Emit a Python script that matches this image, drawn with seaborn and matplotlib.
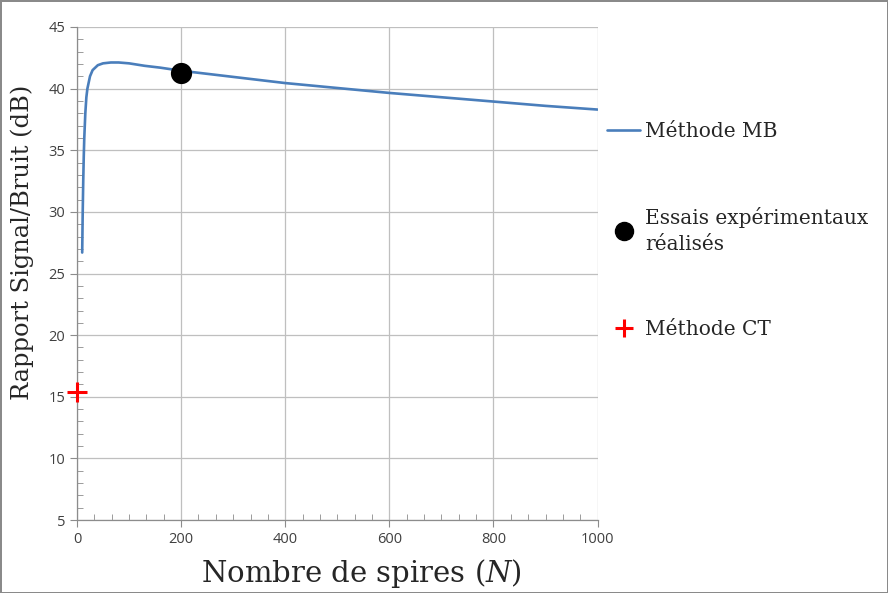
import pandas as pd
import matplotlib.pyplot as plt
import seaborn as sns
from matplotlib.ticker import MultipleLocator
from matplotlib.lines import Line2D

# Courbe théorique (méthode MB)
spires = [10, 11, 12, 13, 14, 16, 18, 20, 25, 30, 40, 50, 65, 80, 100, 130, 160, 200,
          250, 300, 350, 400, 500, 600, 700, 800, 900, 1000]
snr_mb = [26.7, 30.0, 32.5, 34.5, 36.0, 38.0, 39.3, 40.0, 41.0, 41.5, 41.9, 42.05, 42.12,
          42.12, 42.05, 41.85, 41.7, 41.45, 41.2, 40.95, 40.7, 40.45, 40.05, 39.65, 39.3,
          38.95, 38.6, 38.3]

# Essai expérimental et méthode CT
essai_n = [200]
essai_snr = [41.3]
ct_n = [0]
ct_snr = [15.4]

labels = ["Méthode MB", "Essais expérimentaux\nréalisés", "Méthode CT"]

sns.set_style("white")
plt.rcParams['mathtext.fontset'] = 'dejavuserif'

fig = plt.figure(figsize=(8.88, 5.93), dpi=100)
fig.patch.set_edgecolor("#8a8a8a")
fig.patch.set_linewidth(2)
ax = fig.add_axes([0.0867, 0.123, 0.5863, 0.8315])

df = pd.DataFrame({"N": spires, "SNR": snr_mb})
sns.lineplot(data=df, x="N", y="SNR", ax=ax, color="#4a7ebb", linewidth=1.9)
sns.scatterplot(x=essai_n, y=essai_snr, ax=ax, color="black", s=200, zorder=5,
                edgecolor="black", clip_on=False)
ax.plot(ct_n, ct_snr, marker="+", color="#ff0000", markersize=14, mew=2.2,
        linestyle="none", clip_on=False, zorder=6)

ax.set_xlim(0, 1000)
ax.set_ylim(5, 45)
ax.xaxis.set_major_locator(MultipleLocator(200))
ax.xaxis.set_minor_locator(MultipleLocator(200 / 6))
ax.yaxis.set_major_locator(MultipleLocator(5))
ax.yaxis.set_minor_locator(MultipleLocator(1))
ax.grid(True, which="major", color="#bfbfbf", linewidth=0.9)
for s in ["top", "right"]:
    ax.spines[s].set_visible(False)
for s in ["left", "bottom"]:
    ax.spines[s].set_color("#8c8c8c")
    ax.spines[s].set_linewidth(0.9)
ax.tick_params(which="major", direction="out", length=5, color="#8c8c8c",
               labelsize=10.5, labelcolor="#404040", left=True, bottom=True)
ax.tick_params(which="minor", direction="in", length=4, color="#8c8c8c",
               left=True, bottom=True)
for lab in ax.get_xticklabels() + ax.get_yticklabels():
    lab.set_family("Open Sans")

ax.set_xlabel("Nombre de spires ($\\mathit{N}$)", family="DejaVu Serif", fontsize=21)
ax.set_ylabel("Rapport Signal/Bruit (dB)", family="DejaVu Serif", fontsize=17.4)
ax.xaxis.set_label_coords(0.547, -0.075)
ax.yaxis.set_label_coords(-0.082, 0.564)

handles = [
    Line2D([], [], color="#4a7ebb", linewidth=1.9),
    Line2D([], [], color="black", marker="o", markersize=13, linestyle="none"),
    Line2D([], [], color="#ff0000", marker="+", markersize=13, mew=2.2, linestyle="none"),
]
leg = fig.legend(handles, labels, loc="upper left", bbox_to_anchor=(0.6836, 0.795),
                 bbox_transform=fig.transFigure, frameon=False,
                 prop={"family": "DejaVu Serif", "size": 14.5}, borderpad=0,
                 handlelength=1.65, handletextpad=0.25, labelspacing=3.3,
                 borderaxespad=0)
for t in leg.get_texts():
    t.set_linespacing(1.45)

fig.savefig("out.png", dpi=100, edgecolor=fig.get_edgecolor())
